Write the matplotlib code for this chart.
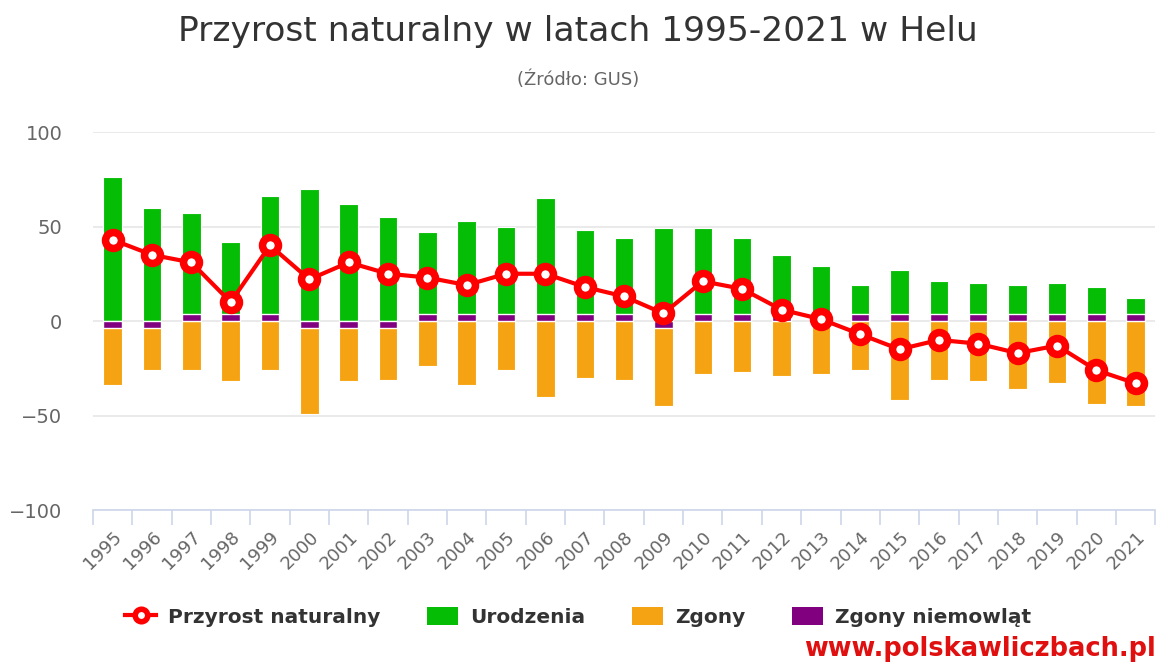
import matplotlib.pyplot as plt
from matplotlib.lines import Line2D
from matplotlib.patches import Patch
import numpy as np

# Dane
years = [str(y) for y in range(1995, 2022)]
urodzenia = [76, 60, 57, 42, 66, 70, 62, 55, 47, 53, 50, 65, 48, 44, 49, 49, 44, 35, 29, 19, 27, 21, 20, 19, 20, 18, 12]
zgony = [34, 26, 26, 32, 26, 49, 32, 31, 24, 34, 26, 40, 30, 31, 45, 28, 27, 29, 28, 26, 42, 31, 32, 36, 33, 44, 45]
przyrost = [43, 35, 31, 10, 40, 22, 31, 25, 23, 19, 25, 25, 18, 13, 4, 21, 17, 6, 1, -7, -15, -10, -12, -17, -13, -26, -33]
zgony_niemowlat = [1, 1, 0, 0, 0, 1, 1, 1, 0, 0, 0, 0, 0, 0, 1, 0, 0, 0, 0, 0, 0, 0, 0, 0, 0, 0, 0]

GREEN = "#06bd06"
ORANGE = "#f6a313"
PURPLE = "#800080"
RED = "#ff0000"
MIN_LEN = 3.8  # minimalna wysokość słupka zgonów niemowląt

fig = plt.figure(figsize=(11.56, 6.62), dpi=100)
ax = fig.add_axes([0.0804, 0.2296, 0.919, 0.571])

x = np.arange(len(years))
w = 0.47

ax.bar(x, urodzenia, width=w, color=GREEN, edgecolor="white", linewidth=0.8, zorder=2)
ax.bar(x, [-v for v in zgony], width=w, color=ORANGE, edgecolor="white", linewidth=0.8, zorder=2)
ax.bar(x, [-MIN_LEN if v > 0 else MIN_LEN for v in zgony_niemowlat], width=w,
       color=PURPLE, edgecolor="white", linewidth=1.0, zorder=3)

ax.plot(x, przyrost, color=RED, linewidth=3, marker="o", markersize=11.5,
        markerfacecolor="white", markeredgecolor=RED, markeredgewidth=5.4, zorder=4)

ax.set_xlim(-0.5, len(years) - 0.5)
ax.set_ylim(-100, 100)
ax.set_yticks([-100, -50, 0, 50, 100])
ax.grid(axis="y", color="#e6e6e6", linewidth=1.2, zorder=0)
ax.set_axisbelow(True)

for s in ["top", "right", "left"]:
    ax.spines[s].set_visible(False)
ax.spines["bottom"].set_color("#ccd6eb")
ax.spines["bottom"].set_linewidth(1.2)

ax.set_xticks(x)
ax.set_xticklabels(years, rotation=45, ha="right", va="top", rotation_mode="anchor",
                   fontsize=13, color="#666666")
ax.set_xticks(np.arange(-0.5, len(years), 1), minor=True)
ax.tick_params(axis="x", which="major", length=0, pad=13)
ax.tick_params(axis="x", which="minor", length=11, color="#ccd6eb", width=1.2)
ax.tick_params(axis="y", length=0, pad=22, labelsize=14, labelcolor="#666666")

fig.text(0.5, 1 - 32 / 662, "Przyrost naturalny w latach 1995-2021 w Helu",
         ha="center", va="center", fontsize=24.8, color="#333333")
fig.text(0.5, 1 - 80 / 662, "(Źródło: GUS)", ha="center", va="center",
         fontsize=13, color="#666666")

handles = [
    Line2D([0], [0], color=RED, linewidth=3, marker="o", markersize=9,
           markerfacecolor="white", markeredgecolor=RED, markeredgewidth=4),
    Patch(facecolor=GREEN),
    Patch(facecolor=ORANGE),
    Patch(facecolor=PURPLE),
]
labels = ["Przyrost naturalny", "Urodzenia", "Zgony", "Zgony niemowląt"]
fig.legend(handles, labels, loc="center", bbox_to_anchor=(0.5, 1 - 617 / 662), ncol=4,
           frameon=False, prop={"weight": "bold", "size": 14.5}, labelcolor="#333333",
           handlelength=1.55, handleheight=1.0, columnspacing=2.3, handletextpad=0.6)

fig.text(1.0, 1 - 649 / 662, "www.polskawliczbach.pl", ha="right", va="center",
         fontsize=18.5, fontweight="bold", color="#e01010")

fig.savefig("out.png", dpi=100)
